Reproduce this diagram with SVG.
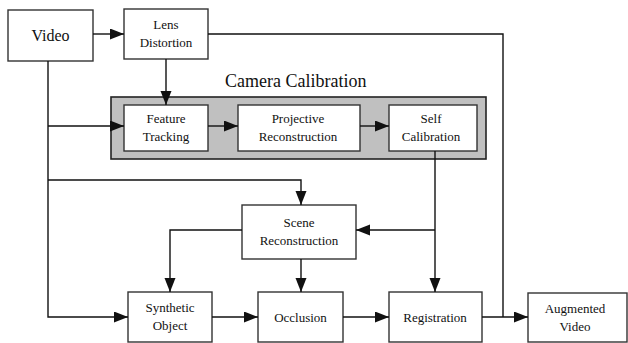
<svg xmlns="http://www.w3.org/2000/svg" width="628" height="343" viewBox="0 0 628 343">
  <style>
    .box { fill: #ffffff; stroke: #333333; stroke-width: 1.4; }
    .group { fill: #c0c0c0; stroke: #222222; stroke-width: 1.6; }
    text { font-family: 'Liberation Serif', 'DejaVu Serif', serif; fill: #111111; }
    .lbl { font-size: 13px; text-anchor: middle; }
    .big { font-size: 16px; }
    .title { font-size: 18px; }
    .wire { fill: none; stroke: #111111; stroke-width: 1.4; }
    .arr { marker-end: url(#head); }
  </style>
  <defs>
    <marker id="head" markerUnits="userSpaceOnUse" markerWidth="15" markerHeight="12" refX="14" refY="5.5" orient="auto">
      <path d="M0,0 L14,5.5 L0,11 z" fill="#111111"/>
    </marker>
  </defs>
  <rect width="628" height="343" fill="#ffffff"/>

  <!-- calibration group background -->
  <g id="camera-calibration">
    <rect class="group" x="111" y="97" width="375" height="62"/>
    <text class="title" x="225" y="87">Camera Calibration</text>
  </g>

  <g id="video">
    <rect class="box" x="8" y="10" width="85" height="51"/>
    <text class="lbl big" x="50.5" y="41">Video</text>
  </g>
  <g id="lens-distortion">
    <rect class="box" x="124" y="9" width="84" height="50"/>
    <text class="lbl" x="166" y="29">Lens</text>
    <text class="lbl" x="166" y="47">Distortion</text>
  </g>
  <g id="feature-tracking">
    <rect class="box" x="124" y="105" width="84" height="46"/>
    <text class="lbl" x="166" y="123">Feature</text>
    <text class="lbl" x="166" y="141">Tracking</text>
  </g>
  <g id="projective-reconstruction">
    <rect class="box" x="238" y="105" width="122" height="46"/>
    <text class="lbl" x="298" y="123">Projective</text>
    <text class="lbl" x="298" y="141">Reconstruction</text>
  </g>
  <g id="self-calibration">
    <rect class="box" x="389" y="105" width="88" height="46"/>
    <text class="lbl" x="431" y="123">Self</text>
    <text class="lbl" x="431" y="141">Calibration</text>
  </g>
  <g id="scene-reconstruction">
    <rect class="box" x="242" y="205" width="114" height="54"/>
    <text class="lbl" x="299" y="227">Scene</text>
    <text class="lbl" x="299" y="245">Reconstruction</text>
  </g>
  <g id="synthetic-object">
    <rect class="box" x="128" y="292" width="84" height="50"/>
    <text class="lbl" x="170" y="312">Synthetic</text>
    <text class="lbl" x="170" y="330">Object</text>
  </g>
  <g id="occlusion">
    <rect class="box" x="258" y="292" width="85" height="50"/>
    <text class="lbl" x="300.5" y="322">Occlusion</text>
  </g>
  <g id="registration">
    <rect class="box" x="389" y="292" width="93" height="50"/>
    <text class="lbl" x="435" y="322">Registration</text>
  </g>
  <g id="augmented-video">
    <rect class="box" x="528" y="293" width="99" height="49"/>
    <text class="lbl" x="575" y="313">Augmented</text>
    <text class="lbl" x="575" y="331">Video</text>
  </g>

  <g id="connectors">
    <path class="wire arr" d="M93,34 H124"/>
    <path class="wire" d="M208,34 H503 V317"/>
    <path class="wire arr" d="M166,59 V105"/>
    <path class="wire arr" d="M48,61 V317 H128"/>
    <path class="wire arr" d="M48,126 H124"/>
    <path class="wire arr" d="M48,180 H301 V205"/>
    <path class="wire arr" d="M208,126 H238"/>
    <path class="wire arr" d="M360,126 H389"/>
    <path class="wire arr" d="M435,151 V292"/>
    <path class="wire arr" d="M435,230 H356"/>
    <path class="wire arr" d="M242,230 H170 V292"/>
    <path class="wire arr" d="M301,259 V292"/>
    <path class="wire arr" d="M212,317 H258"/>
    <path class="wire arr" d="M343,317 H389"/>
    <path class="wire arr" d="M482,317 H528"/>
  </g>
</svg>
